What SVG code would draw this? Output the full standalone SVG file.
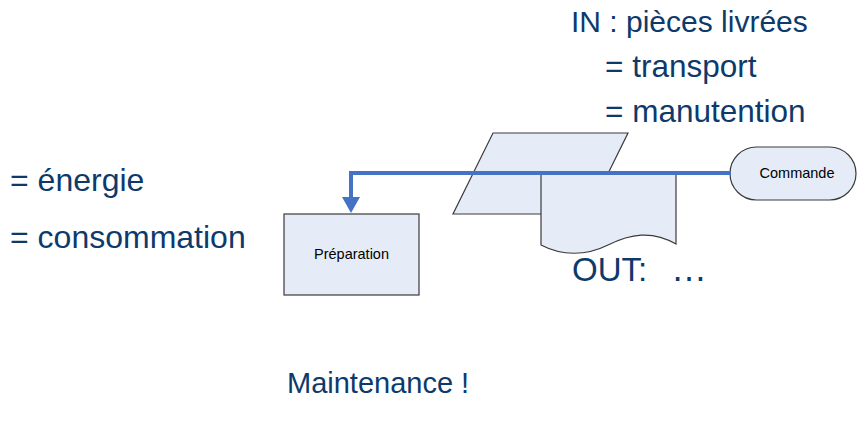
<svg xmlns="http://www.w3.org/2000/svg" width="857" height="423" viewBox="0 0 857 423">
<style>
.t{font-family:"Liberation Sans",Arial,sans-serif;font-size:30px;fill:#0d3a6b}
.s{fill:#e6ecf7;stroke:#3a3a3a;stroke-width:1.2}
.l{font-family:"Liberation Sans",Arial,sans-serif;font-size:14.5px;fill:#000}
.c{fill:none;stroke:#4472c4;stroke-width:4}
</style>
<rect width="857" height="423" fill="#fff"/>
<text class="t" x="571" y="32">IN : pièces livrées</text>
<text class="t" x="605" y="77" style="font-size:31.5px">= transport</text>
<text class="t" x="605" y="122" style="font-size:31.5px">= manutention</text>
<text class="t" x="10" y="191" style="font-size:32px">= énergie</text>
<text class="t" x="10" y="248" style="font-size:32px">= consommation</text>
<text class="t" x="572" y="281" style="font-size:33px">OUT: <tspan x="671" style="font-size:36px">…</tspan></text>
<text class="t" x="287" y="393" style="font-size:29px">Maintenance !</text>
<g id="input">
<polygon class="s" points="493,133 628,133 588,214 453,214"/>
</g>
<g id="document">
<path class="s" d="M541,173 H676 V244 C652,230 630,234 608,245 C586,256 562,256 541,245 Z"/>
</g>
<g id="preparation">
<rect class="s" x="284" y="214" width="135" height="81"/>
<text class="l" x="351.5" y="259" text-anchor="middle">Préparation</text>
</g>
<g id="commande">
<rect class="s" x="730" y="147" width="126" height="53" rx="26.5"/>
<text class="l" x="797" y="178" text-anchor="middle">Commande</text>
</g>
<g id="connectors">
<path class="c" d="M731,173 H351 V198"/>
<polygon points="342,197 360,197 351,213" fill="#4472c4"/>
</g>
</svg>
